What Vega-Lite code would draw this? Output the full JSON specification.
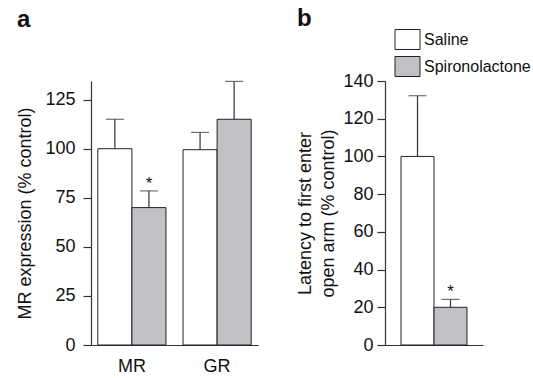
{
  "$schema": "https://vega.github.io/schema/vega-lite/v6.json",
  "padding": {"left": 16, "top": 7, "right": 5, "bottom": 2},
  "background": "white",
  "config": {
    "font": "Liberation Sans",
    "view": {"stroke": null},
    "axis": {"grid": false, "domainColor": "#333", "tickColor": "#333", "labelColor": "#111", "titleColor": "#111", "labelFont": "Liberation Sans", "titleFont": "Liberation Sans", "labelFontSize": 18, "titleFontSize": 18, "titleFontWeight": "normal", "tickSize": 8, "labelPadding": 8, "domainWidth": 1.2, "tickWidth": 1.2, "labelOverlap": false},
    "title": {"fontSize": 24, "fontWeight": "bold", "anchor": "start", "frame": "bounds", "color": "#111", "font": "Liberation Sans"},
    "legend": {"labelFont": "Liberation Sans"}
  },
  "datasets": {
    "expr": [
      {"target": "MR", "treatment": "Saline", "mean": 100, "upper": 115},
      {"target": "MR", "treatment": "Spironolactone", "mean": 70, "upper": 78.5, "sig": "*"},
      {"target": "GR", "treatment": "Saline", "mean": 99.5, "upper": 108.3},
      {"target": "GR", "treatment": "Spironolactone", "mean": 115, "upper": 134.3}
    ],
    "latency": [
      {"treatment": "Saline", "mean": 100, "upper": 132.2},
      {"treatment": "Spironolactone", "mean": 20, "upper": 24.2, "sig": "*"}
    ]
  },
  "spacing": 38,
  "resolve": {"scale": {"fill": "independent"}, "legend": {"fill": "independent"}},
  "hconcat": [
    {
      "title": {"text": "a", "offset": 49},
      "width": 167,
      "height": 264,
      "data": {"name": "expr"},
      "layer": [
        {
          "mark": {"type": "bar", "stroke": "#222", "strokeWidth": 1},
          "encoding": {
            "x": {"field": "target", "type": "nominal", "sort": ["MR", "GR"], "scale": {"paddingInner": 0.2, "paddingOuter": 0.08}, "axis": {"title": null, "ticks": false, "labelPadding": 12, "labelAngle": 0, "labelFontSize": 18}},
            "xOffset": {"field": "treatment", "type": "nominal", "sort": ["Saline", "Spironolactone"]},
            "y": {"field": "mean", "type": "quantitative", "scale": {"domain": [0, 134.5], "nice": false}, "axis": {"values": [0, 25, 50, 75, 100, 125], "tickCount": 6, "title": "MR expression (% control)", "titlePadding": 10, "labelOverlap": false}},
            "fill": {"field": "treatment", "type": "nominal", "scale": {"domain": ["Saline", "Spironolactone"], "range": ["#ffffff", "#c0c1c4"]}, "legend": null}
          }
        },
        {
          "mark": {"type": "rule", "color": "#333", "strokeWidth": 1.2},
          "encoding": {
            "x": {"field": "target", "type": "nominal", "sort": ["MR", "GR"]},
            "xOffset": {"field": "treatment", "type": "nominal", "sort": ["Saline", "Spironolactone"]},
            "y": {"field": "mean", "type": "quantitative"},
            "y2": {"field": "upper"}
          }
        },
        {
          "mark": {"type": "tick", "color": "#333", "size": 18, "thickness": 1.2, "orient": "horizontal"},
          "encoding": {
            "x": {"field": "target", "type": "nominal", "sort": ["MR", "GR"]},
            "xOffset": {"field": "treatment", "type": "nominal", "sort": ["Saline", "Spironolactone"]},
            "y": {"field": "upper", "type": "quantitative"}
          }
        },
        {
          "transform": [{"filter": "datum.sig"}],
          "mark": {"type": "text", "fontSize": 17, "dy": -2, "baseline": "alphabetic", "color": "#111"},
          "encoding": {
            "x": {"field": "target", "type": "nominal", "sort": ["MR", "GR"]},
            "xOffset": {"field": "treatment", "type": "nominal", "sort": ["Saline", "Spironolactone"]},
            "y": {"field": "upper", "type": "quantitative"},
            "text": {"field": "sig"}
          }
        }
      ]
    },
    {
      "title": {"text": "b", "offset": -2},
      "width": 98,
      "height": 264,
      "data": {"name": "latency"},
      "layer": [
        {
          "mark": {"type": "bar", "stroke": "#222", "strokeWidth": 1},
          "encoding": {
            "x": {"field": "treatment", "type": "nominal", "sort": ["Saline", "Spironolactone"], "scale": {"paddingInner": 0, "paddingOuter": 0.485}, "axis": {"title": null, "ticks": false, "labels": false}},
            "y": {"field": "mean", "type": "quantitative", "scale": {"domain": [0, 140], "nice": false}, "axis": {"values": [0, 20, 40, 60, 80, 100, 120, 140], "tickCount": 8, "title": ["Latency to first enter", "open arm (% control)"], "titlePadding": 5, "labelPadding": 4, "titleLineHeight": 23, "labelOverlap": false}},
            "fill": {"field": "treatment", "type": "nominal", "scale": {"domain": ["Saline", "Spironolactone"], "range": ["#ffffff", "#c0c1c4"]}, "legend": {"title": null, "orient": "none", "legendX": 12, "legendY": -52, "padding": 0, "symbolType": "M-1.25,-1H1.25V1H-1.25Z", "symbolSize": 400, "symbolStrokeColor": "#222", "symbolStrokeWidth": 1, "labelFontSize": 16, "labelOffset": 6, "rowPadding": 2, "labelColor": "#111"}}
          }
        },
        {
          "mark": {"type": "rule", "color": "#333", "strokeWidth": 1.2},
          "encoding": {
            "x": {"field": "treatment", "type": "nominal", "sort": ["Saline", "Spironolactone"]},
            "y": {"field": "mean", "type": "quantitative"},
            "y2": {"field": "upper"}
          }
        },
        {
          "mark": {"type": "tick", "color": "#333", "size": 18, "thickness": 1.2, "orient": "horizontal"},
          "encoding": {
            "x": {"field": "treatment", "type": "nominal", "sort": ["Saline", "Spironolactone"]},
            "y": {"field": "upper", "type": "quantitative"}
          }
        },
        {
          "transform": [{"filter": "datum.sig"}],
          "mark": {"type": "text", "fontSize": 17, "dy": -2, "baseline": "alphabetic", "color": "#111"},
          "encoding": {
            "x": {"field": "treatment", "type": "nominal", "sort": ["Saline", "Spironolactone"]},
            "y": {"field": "upper", "type": "quantitative"},
            "text": {"field": "sig"}
          }
        }
      ]
    }
  ]
}
